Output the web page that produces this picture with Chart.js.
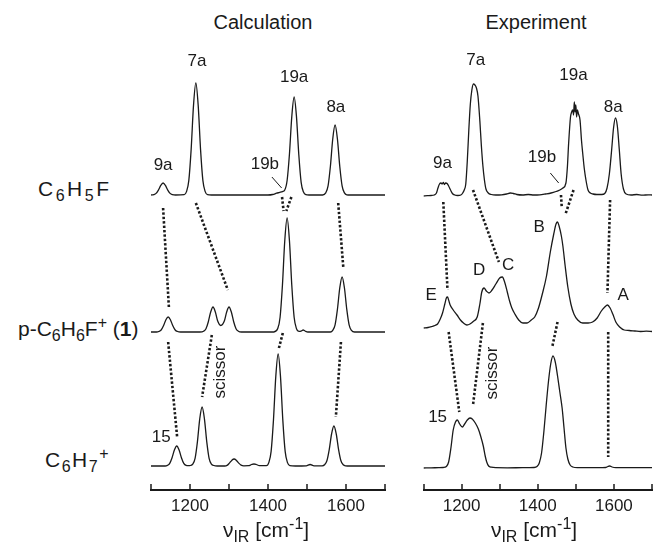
<!DOCTYPE html>
<html>
<head>
<meta charset="utf-8">
<script src="https://cdn.jsdelivr.net/npm/chart.js@4.4.1/dist/chart.umd.min.js"></script>
<style>
  body { margin: 0; width: 653px; height: 549px; overflow: hidden; background: #fff;
         font-family: "Liberation Sans", Arial, sans-serif; color: #1a1a1a; position: relative; }
  canvas { position: absolute; top: 0; }
  .ttl { position: absolute; white-space: nowrap; transform: translate(-50%, -50%); font-size: 20px; }
  .axt { position: absolute; white-space: nowrap; transform: translate(-50%, -50%); font-size: 21px; }
  .mol { position: absolute; white-space: nowrap; transform: translateY(-50%); font-size: 21px; }
  sub, sup { font-size: 16px; line-height: 0; }
</style>
</head>
<body>
<div class="ttl" style="left:263px; top:22px;">Calculation</div>
<div class="ttl" style="left:536px; top:22px;">Experiment</div>

<div class="mol" style="left:38px; top:189px; letter-spacing:2.5px;">C<sub>6</sub>H<sub>5</sub>F</div>
<div class="mol" style="left:18px; top:329px;">p-C<sub>6</sub>H<sub>6</sub>F<sup>+</sup> (<b>1</b>)</div>
<div class="mol" style="left:45px; top:460px; letter-spacing:1.5px;">C<sub>6</sub>H<sub>7</sub><sup>+</sup></div>

<canvas id="calcChart" width="400" height="549" style="left:0px;"></canvas>
<canvas id="expChart" width="270" height="549" style="left:395px;"></canvas>

<div class="axt" style="left:266px; top:530px;">ν<sub>IR</sub> [cm<sup>-1</sup>]</div>
<div class="axt" style="left:534px; top:530px;">ν<sub>IR</sub> [cm<sup>-1</sup>]</div>

<script>
// wavenumber axis (cm-1)
const wnMin = 1100, wnMax = 1700;
const wnLabels = [1200, 1400, 1600];

// baseline offsets of the stacked spectra: C6H5F, p-C6H6F+, C6H7+
const calcOffsets = [295, 158, 24];
const expOffsets = [294, 158, 22];

// calculated spectra [wavenumber, intensity]
const calcC6H5F = [[1100,0],[1107,0.4],[1113,1.6],[1119,4.9],[1125,9.6],[1131,12],[1137,9.6],[1143,4.9],[1149,1.6],[1155,0.4],[1163,0],
  [1185,0.3],[1191,3.4],[1197,14.6],[1203,45.9],[1209,89.6],[1215,112],[1221,89.6],[1227,45.9],[1233,14.6],[1239,3.4],[1245,0.3],[1255,0],
  [1400,0],[1412,0.5],[1422,1.8],[1430,2.6],[1437,3.4],[1443,5],[1449,14.5],[1455,41],[1461,78.4],[1467,98],[1473,78.4],[1479,40.2],[1485,12.7],[1491,2.9],[1497,0.3],[1505,0],
  [1540,0],[1548,2.1],[1554,9.1],[1560,28.7],[1566,56],[1572,70],[1578,56],[1584,28.7],[1590,9.1],[1596,2.1],[1602,0.2],[1610,0],[1700,0]];

const calcPC6H6F = [[1100,0],[1114,0],[1120,0.5],[1126,2],[1132,6.2],[1138,12],[1144,15],[1150,12],[1156,6.2],[1162,2],[1168,0.5],[1176,0],
  [1225,0],[1235,0.8],[1241,3.3],[1247,10.3],[1253,20],[1259,25],[1265,20],[1271,11],[1279,6.5],[1288,11],[1294,20],[1300,25],[1306,20],[1312,10.3],[1318,3.3],[1324,0.8],[1332,0],
  [1415,0],[1425,3.4],[1431,14.8],[1437,46.7],[1443,91.2],[1449,114],[1455,91.2],[1461,46.7],[1467,14.8],[1473,3.4],[1480,0.6],[1486,1.2],[1490,2],[1495,1],[1502,0],
  [1560,0],[1566,1.7],[1572,7.2],[1578,22.6],[1584,44],[1590,55],[1596,44],[1602,22.6],[1608,7.2],[1614,1.7],[1622,0],[1700,0]];

const calcC6H7 = [[1100,0],[1136,0],[1142,0.6],[1148,2.6],[1154,8.2],[1160,16],[1166,20],[1172,16],[1178,8.2],[1184,2.6],[1190,0.6],[1196,0.3],
  [1201,0.5],[1207,1.8],[1213,7.7],[1219,24.2],[1225,47.2],[1231,59],[1237,47.2],[1243,24.2],[1249,7.7],[1255,1.8],[1261,0.5],[1270,0],
  [1289,0],[1295,0.6],[1301,2.9],[1307,5.6],[1313,7],[1319,5.6],[1325,2.9],[1331,0.9],[1338,0.2],
  [1350,0.3],[1358,1.5],[1364,2],[1370,1.5],[1378,0.3],
  [1396,0.3],[1402,3.4],[1408,14.6],[1414,45.9],[1420,89.6],[1426,112],[1432,89.6],[1438,45.9],[1444,14.6],[1450,3.4],[1456,0.4],[1470,0],
  [1498,0.2],[1508,1.5],[1518,0.2],
  [1539,0.2],[1545,1.2],[1551,5.2],[1557,16.4],[1563,32],[1569,40],[1575,32],[1581,16.4],[1587,5.2],[1593,1.2],[1599,0.2],[1610,0],[1700,0]];

// experimental spectra [wavenumber, intensity]
const expC6H5F = [[1100,0],[1110,0.3],[1120,0.5],[1128,1],[1134,3],[1138,8],[1142,12],[1146,13],[1149,12],[1152,13.5],[1155,11.5],[1158,13],[1162,12.5],[1166,10],[1171,6],[1176,2.5],[1182,1],[1190,0.5],
  [1198,1],[1203,3],[1207,6],[1211,12],[1215,35],[1219,66],[1223,92],[1227,106],[1231,112],[1235,111],[1239,108],[1243,100],[1248,75],[1252,50],[1256,30],[1260,16],[1264,7],[1270,3],[1278,1.5],
  [1290,1],[1305,1.2],[1318,2],[1328,3],[1336,2.5],[1345,1.5],[1360,1],[1375,1.5],[1390,1],[1405,1.2],[1420,2],[1435,3],[1448,4.5],[1458,6],[1466,8],
  [1474,13],[1478,30],[1481,52],[1486,79],[1489,84],[1492,86],[1494,81],[1496,94],[1498,84],[1500,91],[1502,79],[1504,86],[1507,82],[1511,76],[1515,55],[1518,43],[1522,28],[1527,15],[1532,6],[1538,3],[1545,2],
  [1555,1.5],[1568,1.5],[1576,2.5],[1582,8],[1588,22],[1594,46],[1599,68],[1604,78],[1609,70],[1614,47],[1619,22],[1625,7],[1632,2],[1645,1],[1660,1.5],[1675,0.8],[1690,1.2],[1700,1]];

const expPC6H6F = [[1100,4],[1112,4.5],[1122,5.5],[1130,6.5],[1137,8],[1144,13],[1150,19],[1156,28],[1160,34],[1163,35],[1166,32],[1170,27],[1178,22],[1188,17],[1197,12],[1205,9],[1214,7],
  [1222,8],[1232,11],[1241,15],[1248,28],[1253,40],[1259,44],[1265,41],[1272,39],[1280,42],[1290,48],[1300,54],[1307,55],[1313,50],[1320,40],[1326,31],[1332,24],[1340,18],[1350,12],[1361,9],[1372,9],[1383,12],
  [1392,15],[1402,24],[1412,38],[1423,56],[1433,80],[1442,98],[1448,108],[1452,110],[1456,106],[1462,96],[1466,86],[1472,66],[1479,45],[1487,28],[1495,18],[1505,12],
  [1518,9],[1532,9],[1544,10],[1556,14],[1567,21],[1576,25],[1583,27],[1590,24],[1597,18],[1605,10],[1615,5],[1627,2],[1640,1.5],[1655,1],[1670,0.5],[1685,0.8],[1700,0.5]];

const expC6H7 = [[1100,0],[1120,0.2],[1140,0.3],[1152,0.5],[1160,1.5],[1166,6],[1172,20],[1178,38],[1184,46],[1189,48],[1195,44],[1202,41],[1208,44],[1215,48],[1222,50],[1228,49],[1236,45],[1244,39],[1250,32],[1257,22],[1262,12],[1266,6],[1271,2],[1278,0.8],[1290,0.3],
  [1320,0.2],[1360,0.3],[1390,0.5],[1398,1.5],[1404,5],[1410,15],[1416,36],[1422,62],[1428,86],[1434,104],[1440,112],[1446,106],[1452,92],[1458,76],[1464,60],[1469,40],[1474,20],[1479,9],[1485,3],[1492,1],[1505,0.4],
  [1560,0.3],[1578,0.5],[1584,1.5],[1589,2],[1595,1],[1605,0.4],[1650,0.3],[1700,0.3]];

// dotted correlation lines [[wn, y], [wn, y]] in stacked units
const calcDotted = [
  [[1131,282],[1146,182]], [[1215,287],[1297,200]], [[1436,293],[1440,279]], [[1460,293],[1447,279]], [[1580,287],[1593,223]],
  [[1144,148],[1167,53]], [[1256,155],[1231,93]], [[1438,157],[1428,142]], [[1587,148],[1574,73]]
];
const expDotted = [
  [[1152,288],[1163,200]], [[1230,300],[1298,228]], [[1461,295],[1463,283]], [[1494,300],[1472,275]], [[1590,290],[1583,197]],
  [[1166,158],[1194,78]], [[1256,167],[1230,85]], [[1452,168],[1438,143]], [[1585,158],[1585,33]]
];

// leader lines of the 19b labels
const calcLeaders = [[[1410,313],[1435,302]]];
const expLeaders = [[[1433,317],[1455,307]]];

// band labels [text, wn, y]
const calcLabels = [["9a",1131,325],["7a",1218,429],["19a",1467,413],["19b",1392,326],["8a",1574,383],["15",1126,53]];
const expLabels = [["9a",1150,327],["7a",1237,430],["19a",1494,415],["19b",1411,333],["8a",1598,383],
  ["B",1404,263],["C",1322,225],["D",1246,220],["E",1120,195],["A",1624,195],["15",1137,73]];
const calcScissor = [1277, 118];
const expScissor = [1281, 117];

const FONT = '"Liberation Sans", Arial, sans-serif';
const INK = '#1a1a1a';

function makePanel(canvasId, traces, offsets, dotted, leaders, labels, scissor, pad) {
  let datasets = traces.map((tr, i) => ({
    data: tr.map(p => ({ x: p[0], y: p[1] + offsets[i] })),
    borderColor: INK,
    borderWidth: 1.3,
    pointRadius: 0,
    cubicInterpolationMode: 'monotone',
    fill: false
  }));
  dotted.forEach(seg => datasets.push({
    data: seg.map(p => ({ x: p[0], y: p[1] })),
    borderColor: INK,
    borderWidth: 2.6,
    borderDash: [2.4, 2],
    pointRadius: 0
  }));
  leaders.forEach(seg => datasets.push({
    data: seg.map(p => ({ x: p[0], y: p[1] })),
    borderColor: INK,
    borderWidth: 1,
    pointRadius: 0
  }));

  // band labels and inward tick marks
  const textPlugin = {
    id: 'bandText',
    afterDatasetsDraw(chart) {
      const { ctx, chartArea } = chart;
      const x = chart.scales.x, y = chart.scales.y;
      ctx.save();
      ctx.fillStyle = INK;
      ctx.font = '17px ' + FONT;
      ctx.textAlign = 'center';
      ctx.textBaseline = 'middle';
      labels.forEach(l => ctx.fillText(l[0], x.getPixelForValue(l[1]), y.getPixelForValue(l[2])));

      ctx.save();
      ctx.translate(x.getPixelForValue(scissor[0]), y.getPixelForValue(scissor[1]));
      ctx.rotate(-Math.PI / 2);
      ctx.fillText('scissor', 0, 0);
      ctx.restore();

      ctx.strokeStyle = INK;
      ctx.lineWidth = 1.5;
      x.ticks.forEach(t => {
        const px = Math.round(x.getPixelForValue(t.value));
        ctx.beginPath();
        ctx.moveTo(px, chartArea.bottom);
        ctx.lineTo(px, chartArea.bottom - 6);
        ctx.stroke();
      });
      ctx.restore();
    }
  };

  return new Chart(document.getElementById(canvasId), {
    type: 'line',
    data: { datasets: datasets },
    options: {
      responsive: false,
      animation: false,
      events: [],
      layout: { padding: pad },
      plugins: { legend: { display: false }, tooltip: { enabled: false } },
      scales: {
        x: {
          type: 'linear',
          min: wnMin,
          max: wnMax,
          afterFit: s => { s.height = 59; },
          grid: { display: true, drawOnChartArea: false, drawTicks: false },
          border: { display: true, color: INK, width: 2 },
          ticks: {
            stepSize: 100,
            autoSkip: false,
            maxRotation: 0,
            padding: 6,
            color: INK,
            font: { size: 17, family: FONT },
            callback: v => wnLabels.includes(v) ? String(v) : ''
          }
        },
        y: { display: false, min: 0, max: 450 }
      }
    },
    plugins: [textPlugin]
  });
}

makePanel('calcChart', [calcC6H5F, calcPC6H6F, calcC6H7], calcOffsets, calcDotted, calcLeaders, calcLabels, calcScissor,
  { left: 151, right: 15, top: 40, bottom: 0 });
makePanel('expChart', [expC6H5F, expPC6H6F, expC6H7], expOffsets, expDotted, expLeaders, expLabels, expScissor,
  { left: 28.5, right: 13, top: 40, bottom: 0 });
</script>
</body>
</html>
